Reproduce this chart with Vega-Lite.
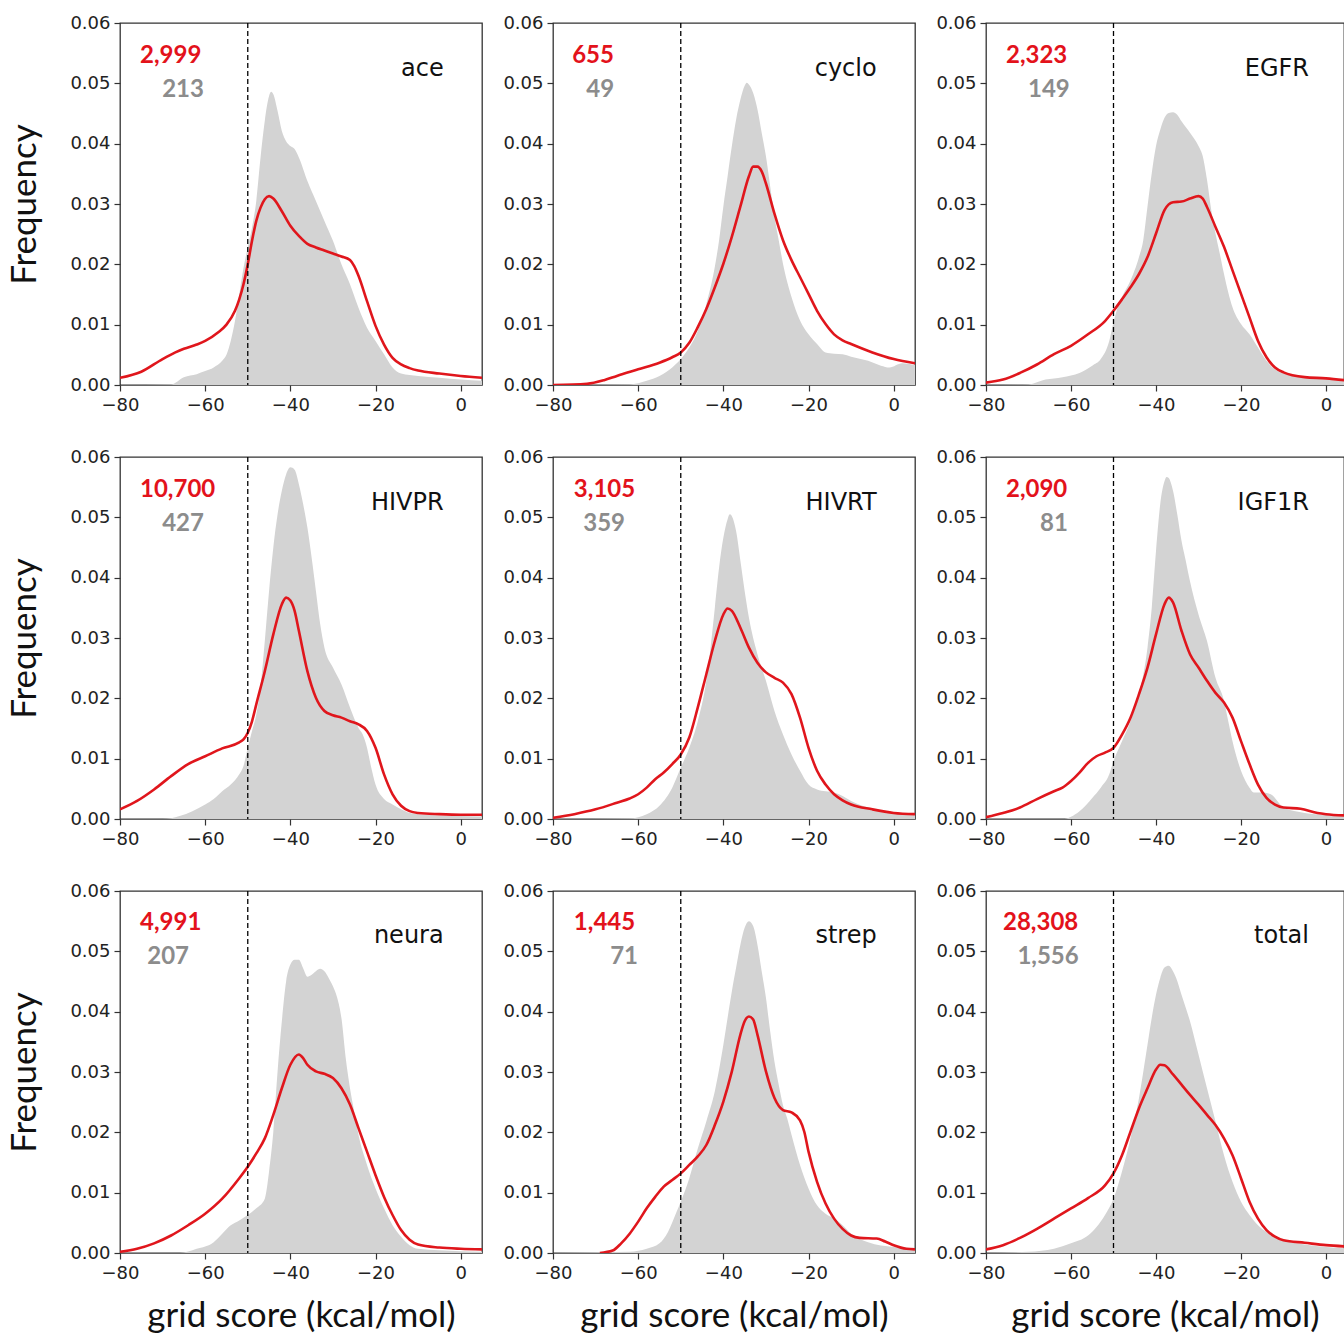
{
"$schema": "https://vega.github.io/schema/vega-lite/v6.json",
"background": "white",
"padding": {"left": 7, "top": 13, "right": 0, "bottom": 0},
"bounds": "flush",
"spacing": {"row": 72, "column": 71},
"columns": 3,
"datasets": {
"info": [
{"t":"ace","red":"2,999","gray":"213","cut":-50},
{"t":"cyclo","red":"655","gray":"49","cut":-50},
{"t":"EGFR","red":"2,323","gray":"149","cut":-50},
{"t":"HIVPR","red":"10,700","gray":"427","cut":-50},
{"t":"HIVRT","red":"3,105","gray":"359","cut":-50},
{"t":"IGF1R","red":"2,090","gray":"81","cut":-50},
{"t":"neura","red":"4,991","gray":"207","cut":-50},
{"t":"strep","red":"1,445","gray":"71","cut":-50},
{"t":"total","red":"28,308","gray":"1,556","cut":-50}
],
"ace_g": [{"x":-80,"y":0},{"x":-68,"y":0.0001},{"x":-65,"y":0.0013},{"x":-62,"y":0.0018},{"x":-60,"y":0.0023},{"x":-58,"y":0.0029},{"x":-56,"y":0.004},{"x":-55,"y":0.005},{"x":-54,"y":0.0073},{"x":-53,"y":0.0106},{"x":-52,"y":0.015},{"x":-51,"y":0.0194},{"x":-50,"y":0.0228},{"x":-49,"y":0.0261},{"x":-48,"y":0.0305},{"x":-47,"y":0.0377},{"x":-46,"y":0.0438},{"x":-45,"y":0.0479},{"x":-44.5,"y":0.0486},{"x":-44,"y":0.0482},{"x":-43,"y":0.0454},{"x":-42,"y":0.0421},{"x":-41,"y":0.0404},{"x":-40,"y":0.0396},{"x":-39,"y":0.0391},{"x":-38,"y":0.0377},{"x":-36,"y":0.0338},{"x":-34,"y":0.0305},{"x":-32,"y":0.0272},{"x":-30,"y":0.0239},{"x":-28,"y":0.02},{"x":-26,"y":0.0167},{"x":-24,"y":0.0128},{"x":-22,"y":0.0095},{"x":-20,"y":0.0073},{"x":-18,"y":0.0051},{"x":-16,"y":0.0029},{"x":-14,"y":0.0019},{"x":-10,"y":0.0015},{"x":-5,"y":0.0012},{"x":0,"y":0.0009},{"x":5,"y":0.0007}],
"ace_r": [{"x":-80,"y":0.0012},{"x":-75,"y":0.0022},{"x":-70,"y":0.0043},{"x":-67,"y":0.0054},{"x":-65,"y":0.006},{"x":-62,"y":0.0067},{"x":-60,"y":0.0073},{"x":-57,"y":0.0087},{"x":-55,"y":0.01},{"x":-53,"y":0.0123},{"x":-52,"y":0.0142},{"x":-51,"y":0.0167},{"x":-50,"y":0.02},{"x":-49,"y":0.0239},{"x":-48,"y":0.0272},{"x":-47,"y":0.0294},{"x":-46,"y":0.0308},{"x":-45,"y":0.0313},{"x":-44,"y":0.0309},{"x":-42,"y":0.0288},{"x":-40,"y":0.0264},{"x":-38,"y":0.0247},{"x":-36,"y":0.0234},{"x":-34,"y":0.0228},{"x":-32,"y":0.0223},{"x":-30,"y":0.0218},{"x":-28,"y":0.0213},{"x":-26,"y":0.0207},{"x":-25,"y":0.0197},{"x":-24,"y":0.0181},{"x":-22,"y":0.0139},{"x":-20,"y":0.0098},{"x":-18,"y":0.0067},{"x":-16,"y":0.0045},{"x":-14,"y":0.0034},{"x":-12,"y":0.0028},{"x":-10,"y":0.0024},{"x":-5,"y":0.0019},{"x":0,"y":0.0015},{"x":5,"y":0.0012}],
"cyclo_g": [{"x":-80,"y":0},{"x":-62,"y":0.0001},{"x":-58,"y":0.0007},{"x":-55,"y":0.0015},{"x":-52,"y":0.0029},{"x":-50,"y":0.0043},{"x":-48,"y":0.0062},{"x":-46,"y":0.009},{"x":-44,"y":0.0134},{"x":-42,"y":0.0196},{"x":-41,"y":0.024},{"x":-40,"y":0.0296},{"x":-39,"y":0.0346},{"x":-38,"y":0.0396},{"x":-37,"y":0.044},{"x":-36,"y":0.0473},{"x":-35,"y":0.0496},{"x":-34.5,"y":0.0501},{"x":-34,"y":0.0498},{"x":-33,"y":0.0484},{"x":-32,"y":0.0457},{"x":-31,"y":0.0418},{"x":-30,"y":0.0379},{"x":-29,"y":0.0329},{"x":-28,"y":0.0279},{"x":-27,"y":0.024},{"x":-26,"y":0.0201},{"x":-24,"y":0.0146},{"x":-22,"y":0.0107},{"x":-20,"y":0.0084},{"x":-18,"y":0.0068},{"x":-16,"y":0.0054},{"x":-14,"y":0.0052},{"x":-12,"y":0.0051},{"x":-10,"y":0.0047},{"x":-6,"y":0.004},{"x":-3,"y":0.0032},{"x":-1,"y":0.0029},{"x":2,"y":0.0036},{"x":5,"y":0.0033}],
"cyclo_r": [{"x":-80,"y":0},{"x":-72,"y":0.0002},{"x":-68,"y":0.0008},{"x":-65,"y":0.0015},{"x":-60,"y":0.0026},{"x":-55,"y":0.0037},{"x":-52,"y":0.0046},{"x":-50,"y":0.0054},{"x":-48,"y":0.007},{"x":-46,"y":0.0096},{"x":-44,"y":0.0126},{"x":-42,"y":0.0162},{"x":-40,"y":0.0201},{"x":-38,"y":0.0246},{"x":-36,"y":0.0296},{"x":-34,"y":0.0346},{"x":-33,"y":0.0362},{"x":-32,"y":0.0362},{"x":-31,"y":0.0354},{"x":-30,"y":0.0334},{"x":-28,"y":0.0284},{"x":-26,"y":0.024},{"x":-24,"y":0.0207},{"x":-22,"y":0.0179},{"x":-20,"y":0.0151},{"x":-18,"y":0.0123},{"x":-16,"y":0.0101},{"x":-14,"y":0.0084},{"x":-12,"y":0.0074},{"x":-10,"y":0.0068},{"x":-5,"y":0.0054},{"x":0,"y":0.0043},{"x":5,"y":0.0036}],
"EGFR_g": [{"x":-80,"y":0},{"x":-70,"y":0.0001},{"x":-66,"y":0.0009},{"x":-62,"y":0.0013},{"x":-58,"y":0.002},{"x":-55,"y":0.0032},{"x":-53,"y":0.0043},{"x":-51,"y":0.0073},{"x":-50,"y":0.0104},{"x":-49,"y":0.0129},{"x":-48,"y":0.0146},{"x":-46,"y":0.0173},{"x":-44,"y":0.0212},{"x":-43,"y":0.024},{"x":-42,"y":0.0296},{"x":-41,"y":0.0351},{"x":-40,"y":0.0396},{"x":-39,"y":0.0423},{"x":-38,"y":0.0443},{"x":-37,"y":0.0451},{"x":-36,"y":0.0452},{"x":-35,"y":0.0448},{"x":-34,"y":0.0437},{"x":-32,"y":0.0418},{"x":-30,"y":0.0396},{"x":-29,"y":0.0379},{"x":-28,"y":0.034},{"x":-27,"y":0.029},{"x":-26,"y":0.0251},{"x":-25,"y":0.0218},{"x":-24,"y":0.0184},{"x":-22,"y":0.0129},{"x":-20,"y":0.0101},{"x":-18,"y":0.0084},{"x":-16,"y":0.0062},{"x":-14,"y":0.004},{"x":-12,"y":0.0026},{"x":-10,"y":0.0019},{"x":-5,"y":0.0013},{"x":0,"y":0.0009},{"x":4.3,"y":0.0007}],
"EGFR_r": [{"x":-80,"y":0.0004},{"x":-76,"y":0.0009},{"x":-72,"y":0.002},{"x":-68,"y":0.0034},{"x":-64,"y":0.0051},{"x":-60,"y":0.0065},{"x":-56,"y":0.0084},{"x":-52,"y":0.0106},{"x":-50,"y":0.0123},{"x":-48,"y":0.0142},{"x":-46,"y":0.0162},{"x":-44,"y":0.0184},{"x":-42,"y":0.0212},{"x":-40,"y":0.0251},{"x":-38,"y":0.029},{"x":-36,"y":0.0303},{"x":-34,"y":0.0304},{"x":-32,"y":0.0309},{"x":-30,"y":0.0313},{"x":-29,"y":0.0309},{"x":-28,"y":0.0295},{"x":-26,"y":0.0262},{"x":-24,"y":0.0229},{"x":-22,"y":0.019},{"x":-20,"y":0.0151},{"x":-18,"y":0.0112},{"x":-16,"y":0.0073},{"x":-14,"y":0.0046},{"x":-12,"y":0.0029},{"x":-10,"y":0.0021},{"x":-5,"y":0.0013},{"x":0,"y":0.0011},{"x":4.3,"y":0.0008}],
"HIVPR_g": [{"x":-80,"y":0},{"x":-70,"y":0},{"x":-66,"y":0.0005},{"x":-63,"y":0.0013},{"x":-60,"y":0.0024},{"x":-58,"y":0.0033},{"x":-56,"y":0.0046},{"x":-54,"y":0.0057},{"x":-52,"y":0.0074},{"x":-51,"y":0.0088},{"x":-50,"y":0.0118},{"x":-49,"y":0.0146},{"x":-48,"y":0.0173},{"x":-47,"y":0.0218},{"x":-46,"y":0.0295},{"x":-45,"y":0.0378},{"x":-44,"y":0.045},{"x":-43,"y":0.0505},{"x":-42,"y":0.0544},{"x":-41,"y":0.0571},{"x":-40,"y":0.0583},{"x":-39,"y":0.0579},{"x":-38,"y":0.0555},{"x":-37,"y":0.0522},{"x":-36,"y":0.0483},{"x":-35,"y":0.0433},{"x":-34,"y":0.0378},{"x":-33,"y":0.0323},{"x":-32,"y":0.0284},{"x":-30,"y":0.0251},{"x":-28,"y":0.0223},{"x":-26,"y":0.0185},{"x":-24,"y":0.0151},{"x":-23,"y":0.014},{"x":-22,"y":0.0118},{"x":-21,"y":0.0085},{"x":-20,"y":0.0057},{"x":-18,"y":0.0033},{"x":-16,"y":0.0024},{"x":-14,"y":0.0016},{"x":-12,"y":0.001},{"x":-8,"y":0.0007},{"x":0,"y":0.0005},{"x":5,"y":0.0004}],
"HIVPR_r": [{"x":-80,"y":0.0016},{"x":-76,"y":0.003},{"x":-72,"y":0.0049},{"x":-68,"y":0.0071},{"x":-64,"y":0.0091},{"x":-60,"y":0.0104},{"x":-56,"y":0.0117},{"x":-52,"y":0.0127},{"x":-51,"y":0.0132},{"x":-50,"y":0.0143},{"x":-49,"y":0.0162},{"x":-48,"y":0.019},{"x":-46,"y":0.0245},{"x":-44,"y":0.0306},{"x":-42,"y":0.0356},{"x":-41,"y":0.0367},{"x":-40,"y":0.0362},{"x":-39,"y":0.0345},{"x":-38,"y":0.0312},{"x":-36,"y":0.0245},{"x":-34,"y":0.0201},{"x":-32,"y":0.0179},{"x":-30,"y":0.0172},{"x":-28,"y":0.0168},{"x":-26,"y":0.0162},{"x":-24,"y":0.0157},{"x":-22,"y":0.0146},{"x":-20,"y":0.0118},{"x":-18,"y":0.0074},{"x":-16,"y":0.0041},{"x":-14,"y":0.0022},{"x":-12,"y":0.0013},{"x":-10,"y":0.001},{"x":-5,"y":0.0008},{"x":0,"y":0.0007},{"x":5,"y":0.0007}],
"HIVRT_g": [{"x":-80,"y":0},{"x":-62,"y":0.0001},{"x":-58,"y":0.0008},{"x":-55,"y":0.0022},{"x":-52,"y":0.0052},{"x":-50,"y":0.0085},{"x":-48,"y":0.0118},{"x":-46,"y":0.0162},{"x":-44,"y":0.0229},{"x":-43,"y":0.0284},{"x":-42,"y":0.035},{"x":-41,"y":0.0417},{"x":-40,"y":0.0466},{"x":-39,"y":0.0497},{"x":-38.5,"y":0.0505},{"x":-38,"y":0.0502},{"x":-37,"y":0.0477},{"x":-36,"y":0.0428},{"x":-35,"y":0.0378},{"x":-34,"y":0.0334},{"x":-32,"y":0.0273},{"x":-30,"y":0.0229},{"x":-28,"y":0.0179},{"x":-26,"y":0.014},{"x":-24,"y":0.0107},{"x":-22,"y":0.008},{"x":-20,"y":0.0057},{"x":-18,"y":0.0049},{"x":-16,"y":0.0046},{"x":-14,"y":0.0044},{"x":-12,"y":0.0038},{"x":-10,"y":0.003},{"x":-6,"y":0.0019},{"x":0,"y":0.001},{"x":5,"y":0.0008}],
"HIVRT_r": [{"x":-80,"y":0.0002},{"x":-75,"y":0.0008},{"x":-70,"y":0.0016},{"x":-65,"y":0.0027},{"x":-62,"y":0.0034},{"x":-60,"y":0.0041},{"x":-58,"y":0.0052},{"x":-56,"y":0.0066},{"x":-54,"y":0.0077},{"x":-52,"y":0.0091},{"x":-50,"y":0.0107},{"x":-48,"y":0.0135},{"x":-46,"y":0.0185},{"x":-44,"y":0.024},{"x":-42,"y":0.0295},{"x":-40,"y":0.0339},{"x":-39,"y":0.0349},{"x":-38,"y":0.0345},{"x":-36,"y":0.0317},{"x":-34,"y":0.0284},{"x":-32,"y":0.0259},{"x":-30,"y":0.0243},{"x":-28,"y":0.0234},{"x":-26,"y":0.0226},{"x":-24,"y":0.0207},{"x":-22,"y":0.0168},{"x":-20,"y":0.0118},{"x":-18,"y":0.008},{"x":-16,"y":0.0057},{"x":-14,"y":0.0041},{"x":-12,"y":0.0031},{"x":-10,"y":0.0024},{"x":-5,"y":0.0016},{"x":0,"y":0.001},{"x":5,"y":0.0008}],
"IGF1R_g": [{"x":-80,"y":0},{"x":-62,"y":0},{"x":-58,"y":0.0013},{"x":-55,"y":0.0035},{"x":-53,"y":0.0052},{"x":-51,"y":0.0074},{"x":-50,"y":0.0096},{"x":-48,"y":0.0129},{"x":-46,"y":0.0162},{"x":-44,"y":0.0207},{"x":-42,"y":0.0284},{"x":-41,"y":0.035},{"x":-40,"y":0.0444},{"x":-39,"y":0.0522},{"x":-38,"y":0.056},{"x":-37.5,"y":0.0567},{"x":-37,"y":0.0565},{"x":-36,"y":0.0544},{"x":-35,"y":0.0505},{"x":-34,"y":0.0461},{"x":-33,"y":0.0428},{"x":-32,"y":0.0394},{"x":-30,"y":0.0339},{"x":-28,"y":0.0295},{"x":-26,"y":0.0234},{"x":-24,"y":0.0196},{"x":-23,"y":0.0162},{"x":-22,"y":0.0129},{"x":-20,"y":0.008},{"x":-18,"y":0.0052},{"x":-17,"y":0.0044},{"x":-15,"y":0.0044},{"x":-13,"y":0.0041},{"x":-10,"y":0.0019},{"x":-5,"y":0.001},{"x":0,"y":0.0007},{"x":4.3,"y":0.0005}],
"IGF1R_r": [{"x":-80,"y":0.0003},{"x":-76,"y":0.001},{"x":-72,"y":0.0019},{"x":-68,"y":0.0033},{"x":-64,"y":0.0046},{"x":-62,"y":0.0052},{"x":-60,"y":0.0063},{"x":-58,"y":0.0077},{"x":-56,"y":0.0093},{"x":-54,"y":0.0104},{"x":-52,"y":0.011},{"x":-50,"y":0.0118},{"x":-48,"y":0.014},{"x":-46,"y":0.0168},{"x":-44,"y":0.0207},{"x":-42,"y":0.0251},{"x":-40,"y":0.0306},{"x":-38,"y":0.0356},{"x":-37,"y":0.0367},{"x":-36,"y":0.0359},{"x":-34,"y":0.0312},{"x":-32,"y":0.0273},{"x":-30,"y":0.0251},{"x":-28,"y":0.0229},{"x":-26,"y":0.0209},{"x":-24,"y":0.0193},{"x":-22,"y":0.0168},{"x":-20,"y":0.0129},{"x":-18,"y":0.0091},{"x":-16,"y":0.0057},{"x":-14,"y":0.0035},{"x":-12,"y":0.0024},{"x":-10,"y":0.0019},{"x":-6,"y":0.0017},{"x":-2,"y":0.001},{"x":0,"y":0.0008},{"x":4.3,"y":0.0006}],
"neura_g": [{"x":-80,"y":0},{"x":-66,"y":0},{"x":-62,"y":0.0007},{"x":-58,"y":0.0018},{"x":-56,"y":0.0032},{"x":-54,"y":0.0046},{"x":-52,"y":0.0054},{"x":-50,"y":0.0063},{"x":-48,"y":0.0074},{"x":-46,"y":0.009},{"x":-45,"y":0.0135},{"x":-44,"y":0.0201},{"x":-43,"y":0.0301},{"x":-42,"y":0.0384},{"x":-41,"y":0.045},{"x":-40,"y":0.0478},{"x":-39,"y":0.0486},{"x":-38,"y":0.0486},{"x":-37,"y":0.0472},{"x":-36,"y":0.0458},{"x":-35,"y":0.0461},{"x":-34,"y":0.0467},{"x":-33,"y":0.0471},{"x":-32,"y":0.0467},{"x":-31,"y":0.0456},{"x":-30,"y":0.0442},{"x":-29,"y":0.0423},{"x":-28,"y":0.0389},{"x":-27,"y":0.0323},{"x":-26,"y":0.0273},{"x":-25,"y":0.0234},{"x":-24,"y":0.0196},{"x":-22,"y":0.0146},{"x":-20,"y":0.0107},{"x":-18,"y":0.0074},{"x":-16,"y":0.0046},{"x":-14,"y":0.0027},{"x":-12,"y":0.0013},{"x":-10,"y":0.0007},{"x":0,"y":0.0003},{"x":5,"y":0.0002}],
"neura_r": [{"x":-80,"y":0.0002},{"x":-76,"y":0.0007},{"x":-72,"y":0.0016},{"x":-68,"y":0.0029},{"x":-64,"y":0.0046},{"x":-60,"y":0.0065},{"x":-56,"y":0.009},{"x":-52,"y":0.0124},{"x":-50,"y":0.0143},{"x":-48,"y":0.0165},{"x":-46,"y":0.019},{"x":-44,"y":0.0229},{"x":-42,"y":0.0273},{"x":-40,"y":0.0312},{"x":-38,"y":0.0329},{"x":-37,"y":0.0323},{"x":-36,"y":0.0312},{"x":-34,"y":0.0301},{"x":-32,"y":0.0297},{"x":-30,"y":0.029},{"x":-28,"y":0.0273},{"x":-26,"y":0.0246},{"x":-24,"y":0.0207},{"x":-22,"y":0.0168},{"x":-20,"y":0.0129},{"x":-18,"y":0.0093},{"x":-16,"y":0.0063},{"x":-14,"y":0.0038},{"x":-12,"y":0.0022},{"x":-10,"y":0.0014},{"x":-5,"y":0.0009},{"x":0,"y":0.0007},{"x":5,"y":0.0006}],
"strep_g": [{"x":-80,"y":0},{"x":-62,"y":0.0002},{"x":-58,"y":0.0007},{"x":-55,"y":0.0016},{"x":-53,"y":0.0035},{"x":-51,"y":0.0068},{"x":-50,"y":0.0085},{"x":-48,"y":0.0124},{"x":-46,"y":0.0173},{"x":-44,"y":0.0218},{"x":-42,"y":0.0268},{"x":-40,"y":0.0345},{"x":-39,"y":0.039},{"x":-38,"y":0.0434},{"x":-37,"y":0.0473},{"x":-36,"y":0.0511},{"x":-35,"y":0.0539},{"x":-34,"y":0.055},{"x":-33,"y":0.0542},{"x":-32,"y":0.0511},{"x":-31,"y":0.0467},{"x":-30,"y":0.0423},{"x":-29,"y":0.0367},{"x":-28,"y":0.0317},{"x":-27,"y":0.0279},{"x":-26,"y":0.0245},{"x":-25,"y":0.0223},{"x":-24,"y":0.0196},{"x":-22,"y":0.0146},{"x":-20,"y":0.0107},{"x":-18,"y":0.0079},{"x":-16,"y":0.0065},{"x":-14,"y":0.0057},{"x":-12,"y":0.0046},{"x":-10,"y":0.0032},{"x":-6,"y":0.0018},{"x":0,"y":0.001},{"x":5,"y":0.0007}],
"strep_r": [{"x":-69,"y":0},{"x":-66,"y":0.0004},{"x":-64,"y":0.0016},{"x":-62,"y":0.0032},{"x":-60,"y":0.0052},{"x":-58,"y":0.0074},{"x":-56,"y":0.0093},{"x":-54,"y":0.011},{"x":-52,"y":0.0121},{"x":-50,"y":0.0132},{"x":-48,"y":0.0146},{"x":-46,"y":0.016},{"x":-44,"y":0.0179},{"x":-42,"y":0.0212},{"x":-40,"y":0.0251},{"x":-38,"y":0.0301},{"x":-36,"y":0.0362},{"x":-35,"y":0.0384},{"x":-34,"y":0.0392},{"x":-33,"y":0.0387},{"x":-32,"y":0.0362},{"x":-30,"y":0.0301},{"x":-28,"y":0.0257},{"x":-26,"y":0.0237},{"x":-24,"y":0.0233},{"x":-22,"y":0.022},{"x":-21,"y":0.0201},{"x":-20,"y":0.0168},{"x":-18,"y":0.0118},{"x":-16,"y":0.0082},{"x":-14,"y":0.0057},{"x":-12,"y":0.004},{"x":-10,"y":0.0029},{"x":-8,"y":0.0025},{"x":-4,"y":0.0024},{"x":-2,"y":0.0019},{"x":0,"y":0.0013},{"x":3,"y":0.0007},{"x":5,"y":0.0006}],
"total_g": [{"x":-80,"y":0},{"x":-70,"y":0.0002},{"x":-64,"y":0.0007},{"x":-60,"y":0.0016},{"x":-56,"y":0.0029},{"x":-54,"y":0.0043},{"x":-52,"y":0.0063},{"x":-50,"y":0.009},{"x":-48,"y":0.0135},{"x":-46,"y":0.019},{"x":-44,"y":0.0257},{"x":-42,"y":0.0345},{"x":-41,"y":0.039},{"x":-40,"y":0.0428},{"x":-39,"y":0.0456},{"x":-38,"y":0.0473},{"x":-37,"y":0.0476},{"x":-36,"y":0.0467},{"x":-35,"y":0.0451},{"x":-34,"y":0.0428},{"x":-32,"y":0.0384},{"x":-30,"y":0.0329},{"x":-28,"y":0.0273},{"x":-26,"y":0.0218},{"x":-24,"y":0.0162},{"x":-22,"y":0.0118},{"x":-20,"y":0.0085},{"x":-18,"y":0.0063},{"x":-16,"y":0.0046},{"x":-14,"y":0.0035},{"x":-12,"y":0.0027},{"x":-10,"y":0.0021},{"x":-5,"y":0.0014},{"x":0,"y":0.001},{"x":4.3,"y":0.0008}],
"total_r": [{"x":-80,"y":0.0006},{"x":-76,"y":0.0013},{"x":-72,"y":0.0025},{"x":-68,"y":0.004},{"x":-64,"y":0.0057},{"x":-60,"y":0.0074},{"x":-56,"y":0.0091},{"x":-52,"y":0.0112},{"x":-50,"y":0.0132},{"x":-48,"y":0.0162},{"x":-46,"y":0.0201},{"x":-44,"y":0.024},{"x":-42,"y":0.0273},{"x":-40,"y":0.0304},{"x":-39,"y":0.0312},{"x":-38,"y":0.0311},{"x":-36,"y":0.0296},{"x":-34,"y":0.0279},{"x":-32,"y":0.0262},{"x":-30,"y":0.0246},{"x":-28,"y":0.0229},{"x":-26,"y":0.0212},{"x":-24,"y":0.019},{"x":-22,"y":0.0162},{"x":-20,"y":0.0124},{"x":-18,"y":0.0085},{"x":-16,"y":0.0057},{"x":-14,"y":0.0038},{"x":-12,"y":0.0027},{"x":-10,"y":0.0021},{"x":-5,"y":0.0017},{"x":0,"y":0.0013},{"x":4.3,"y":0.0011}]
},
"concat": [
{"width":362,"height":362,"layer":[
{"data":{"name":"ace_g"},"mark":{"type":"area","color":"#d3d3d3","interpolate":"monotone","clip":true},"encoding":{"x":{"field":"x","type":"quantitative","scale":{"domain":[-80,5],"nice":false,"zero":false},"axis":{"values":[-80,-60,-40,-20,0],"title":null}},"y":{"field":"y","type":"quantitative","scale":{"domain":[0,0.06],"nice":false},"axis":{"values":[0,0.01,0.02,0.03,0.04,0.05,0.06],"format":".2f","title":"Frequency"}}}},
{"data":{"name":"ace_r"},"mark":{"type":"line","color":"#e0161c","strokeWidth":2.6,"interpolate":"monotone","clip":true},"encoding":{"x":{"field":"x","type":"quantitative"},"y":{"field":"y","type":"quantitative"}}},
{"data":{"name":"info"},"transform":[{"filter":"datum.t==='ace'"}],"mark":{"type":"rule","color":"black","strokeDash":[5,3],"strokeWidth":1.3},"encoding":{"x":{"field":"cut","type":"quantitative"}}},
{"data":{"name":"info"},"transform":[{"filter":"datum.t==='ace'"}],"mark":{"type":"text","align":"left","baseline":"middle","font":"Lato","fontWeight":"bold","fontSize":24,"color":"#e3121b"},"encoding":{"x":{"datum":-75.3,"type":"quantitative"},"y":{"datum":0.0545,"type":"quantitative"},"text":{"field":"red"}}},
{"data":{"name":"info"},"transform":[{"filter":"datum.t==='ace'"}],"mark":{"type":"text","align":"center","baseline":"middle","font":"Lato","fontWeight":"bold","fontSize":24,"color":"#8c8c8c"},"encoding":{"x":{"datum":-65.2,"type":"quantitative"},"y":{"datum":0.0489,"type":"quantitative"},"text":{"field":"gray"}}},
{"data":{"name":"info"},"transform":[{"filter":"datum.t==='ace'"}],"mark":{"type":"text","align":"right","baseline":"middle","font":"DejaVu Sans","fontSize":24,"color":"#111111"},"encoding":{"x":{"datum":-4,"type":"quantitative"},"y":{"datum":0.0524,"type":"quantitative"},"text":{"field":"t"}}}
]},
{"width":362,"height":362,"layer":[
{"data":{"name":"cyclo_g"},"mark":{"type":"area","color":"#d3d3d3","interpolate":"monotone","clip":true},"encoding":{"x":{"field":"x","type":"quantitative","scale":{"domain":[-80,5],"nice":false,"zero":false},"axis":{"values":[-80,-60,-40,-20,0],"title":null}},"y":{"field":"y","type":"quantitative","scale":{"domain":[0,0.06],"nice":false},"axis":{"values":[0,0.01,0.02,0.03,0.04,0.05,0.06],"format":".2f","title":null}}}},
{"data":{"name":"cyclo_r"},"mark":{"type":"line","color":"#e0161c","strokeWidth":2.6,"interpolate":"monotone","clip":true},"encoding":{"x":{"field":"x","type":"quantitative"},"y":{"field":"y","type":"quantitative"}}},
{"data":{"name":"info"},"transform":[{"filter":"datum.t==='cyclo'"}],"mark":{"type":"rule","color":"black","strokeDash":[5,3],"strokeWidth":1.3},"encoding":{"x":{"field":"cut","type":"quantitative"}}},
{"data":{"name":"info"},"transform":[{"filter":"datum.t==='cyclo'"}],"mark":{"type":"text","align":"left","baseline":"middle","font":"Lato","fontWeight":"bold","fontSize":24,"color":"#e3121b"},"encoding":{"x":{"datum":-75.5,"type":"quantitative"},"y":{"datum":0.0545,"type":"quantitative"},"text":{"field":"red"}}},
{"data":{"name":"info"},"transform":[{"filter":"datum.t==='cyclo'"}],"mark":{"type":"text","align":"center","baseline":"middle","font":"Lato","fontWeight":"bold","fontSize":24,"color":"#8c8c8c"},"encoding":{"x":{"datum":-68.9,"type":"quantitative"},"y":{"datum":0.0489,"type":"quantitative"},"text":{"field":"gray"}}},
{"data":{"name":"info"},"transform":[{"filter":"datum.t==='cyclo'"}],"mark":{"type":"text","align":"right","baseline":"middle","font":"DejaVu Sans","fontSize":24,"color":"#111111"},"encoding":{"x":{"datum":-4,"type":"quantitative"},"y":{"datum":0.0524,"type":"quantitative"},"text":{"field":"t"}}}
]},
{"width":358,"height":362,"layer":[
{"data":{"name":"EGFR_g"},"mark":{"type":"area","color":"#d3d3d3","interpolate":"monotone","clip":true},"encoding":{"x":{"field":"x","type":"quantitative","scale":{"domain":[-80,4.235],"nice":false,"zero":false},"axis":{"values":[-80,-60,-40,-20,0],"title":null}},"y":{"field":"y","type":"quantitative","scale":{"domain":[0,0.06],"nice":false},"axis":{"values":[0,0.01,0.02,0.03,0.04,0.05,0.06],"format":".2f","title":null}}}},
{"data":{"name":"EGFR_r"},"mark":{"type":"line","color":"#e0161c","strokeWidth":2.6,"interpolate":"monotone","clip":true},"encoding":{"x":{"field":"x","type":"quantitative"},"y":{"field":"y","type":"quantitative"}}},
{"data":{"name":"info"},"transform":[{"filter":"datum.t==='EGFR'"}],"mark":{"type":"rule","color":"black","strokeDash":[5,3],"strokeWidth":1.3},"encoding":{"x":{"field":"cut","type":"quantitative"}}},
{"data":{"name":"info"},"transform":[{"filter":"datum.t==='EGFR'"}],"mark":{"type":"text","align":"left","baseline":"middle","font":"Lato","fontWeight":"bold","fontSize":24,"color":"#e3121b"},"encoding":{"x":{"datum":-75.3,"type":"quantitative"},"y":{"datum":0.0545,"type":"quantitative"},"text":{"field":"red"}}},
{"data":{"name":"info"},"transform":[{"filter":"datum.t==='EGFR'"}],"mark":{"type":"text","align":"center","baseline":"middle","font":"Lato","fontWeight":"bold","fontSize":24,"color":"#8c8c8c"},"encoding":{"x":{"datum":-65.2,"type":"quantitative"},"y":{"datum":0.0489,"type":"quantitative"},"text":{"field":"gray"}}},
{"data":{"name":"info"},"transform":[{"filter":"datum.t==='EGFR'"}],"mark":{"type":"text","align":"right","baseline":"middle","font":"DejaVu Sans","fontSize":24,"color":"#111111"},"encoding":{"x":{"datum":-4,"type":"quantitative"},"y":{"datum":0.0524,"type":"quantitative"},"text":{"field":"t"}}}
]},
{"width":362,"height":362,"layer":[
{"data":{"name":"HIVPR_g"},"mark":{"type":"area","color":"#d3d3d3","interpolate":"monotone","clip":true},"encoding":{"x":{"field":"x","type":"quantitative","scale":{"domain":[-80,5],"nice":false,"zero":false},"axis":{"values":[-80,-60,-40,-20,0],"title":null}},"y":{"field":"y","type":"quantitative","scale":{"domain":[0,0.06],"nice":false},"axis":{"values":[0,0.01,0.02,0.03,0.04,0.05,0.06],"format":".2f","title":"Frequency"}}}},
{"data":{"name":"HIVPR_r"},"mark":{"type":"line","color":"#e0161c","strokeWidth":2.6,"interpolate":"monotone","clip":true},"encoding":{"x":{"field":"x","type":"quantitative"},"y":{"field":"y","type":"quantitative"}}},
{"data":{"name":"info"},"transform":[{"filter":"datum.t==='HIVPR'"}],"mark":{"type":"rule","color":"black","strokeDash":[5,3],"strokeWidth":1.3},"encoding":{"x":{"field":"cut","type":"quantitative"}}},
{"data":{"name":"info"},"transform":[{"filter":"datum.t==='HIVPR'"}],"mark":{"type":"text","align":"left","baseline":"middle","font":"Lato","fontWeight":"bold","fontSize":24,"color":"#e3121b"},"encoding":{"x":{"datum":-75.3,"type":"quantitative"},"y":{"datum":0.0545,"type":"quantitative"},"text":{"field":"red"}}},
{"data":{"name":"info"},"transform":[{"filter":"datum.t==='HIVPR'"}],"mark":{"type":"text","align":"center","baseline":"middle","font":"Lato","fontWeight":"bold","fontSize":24,"color":"#8c8c8c"},"encoding":{"x":{"datum":-65.2,"type":"quantitative"},"y":{"datum":0.0489,"type":"quantitative"},"text":{"field":"gray"}}},
{"data":{"name":"info"},"transform":[{"filter":"datum.t==='HIVPR'"}],"mark":{"type":"text","align":"right","baseline":"middle","font":"DejaVu Sans","fontSize":24,"color":"#111111"},"encoding":{"x":{"datum":-4,"type":"quantitative"},"y":{"datum":0.0524,"type":"quantitative"},"text":{"field":"t"}}}
]},
{"width":362,"height":362,"layer":[
{"data":{"name":"HIVRT_g"},"mark":{"type":"area","color":"#d3d3d3","interpolate":"monotone","clip":true},"encoding":{"x":{"field":"x","type":"quantitative","scale":{"domain":[-80,5],"nice":false,"zero":false},"axis":{"values":[-80,-60,-40,-20,0],"title":null}},"y":{"field":"y","type":"quantitative","scale":{"domain":[0,0.06],"nice":false},"axis":{"values":[0,0.01,0.02,0.03,0.04,0.05,0.06],"format":".2f","title":null}}}},
{"data":{"name":"HIVRT_r"},"mark":{"type":"line","color":"#e0161c","strokeWidth":2.6,"interpolate":"monotone","clip":true},"encoding":{"x":{"field":"x","type":"quantitative"},"y":{"field":"y","type":"quantitative"}}},
{"data":{"name":"info"},"transform":[{"filter":"datum.t==='HIVRT'"}],"mark":{"type":"rule","color":"black","strokeDash":[5,3],"strokeWidth":1.3},"encoding":{"x":{"field":"cut","type":"quantitative"}}},
{"data":{"name":"info"},"transform":[{"filter":"datum.t==='HIVRT'"}],"mark":{"type":"text","align":"left","baseline":"middle","font":"Lato","fontWeight":"bold","fontSize":24,"color":"#e3121b"},"encoding":{"x":{"datum":-75.1,"type":"quantitative"},"y":{"datum":0.0545,"type":"quantitative"},"text":{"field":"red"}}},
{"data":{"name":"info"},"transform":[{"filter":"datum.t==='HIVRT'"}],"mark":{"type":"text","align":"center","baseline":"middle","font":"Lato","fontWeight":"bold","fontSize":24,"color":"#8c8c8c"},"encoding":{"x":{"datum":-68.0,"type":"quantitative"},"y":{"datum":0.0489,"type":"quantitative"},"text":{"field":"gray"}}},
{"data":{"name":"info"},"transform":[{"filter":"datum.t==='HIVRT'"}],"mark":{"type":"text","align":"right","baseline":"middle","font":"DejaVu Sans","fontSize":24,"color":"#111111"},"encoding":{"x":{"datum":-4,"type":"quantitative"},"y":{"datum":0.0524,"type":"quantitative"},"text":{"field":"t"}}}
]},
{"width":358,"height":362,"layer":[
{"data":{"name":"IGF1R_g"},"mark":{"type":"area","color":"#d3d3d3","interpolate":"monotone","clip":true},"encoding":{"x":{"field":"x","type":"quantitative","scale":{"domain":[-80,4.235],"nice":false,"zero":false},"axis":{"values":[-80,-60,-40,-20,0],"title":null}},"y":{"field":"y","type":"quantitative","scale":{"domain":[0,0.06],"nice":false},"axis":{"values":[0,0.01,0.02,0.03,0.04,0.05,0.06],"format":".2f","title":null}}}},
{"data":{"name":"IGF1R_r"},"mark":{"type":"line","color":"#e0161c","strokeWidth":2.6,"interpolate":"monotone","clip":true},"encoding":{"x":{"field":"x","type":"quantitative"},"y":{"field":"y","type":"quantitative"}}},
{"data":{"name":"info"},"transform":[{"filter":"datum.t==='IGF1R'"}],"mark":{"type":"rule","color":"black","strokeDash":[5,3],"strokeWidth":1.3},"encoding":{"x":{"field":"cut","type":"quantitative"}}},
{"data":{"name":"info"},"transform":[{"filter":"datum.t==='IGF1R'"}],"mark":{"type":"text","align":"left","baseline":"middle","font":"Lato","fontWeight":"bold","fontSize":24,"color":"#e3121b"},"encoding":{"x":{"datum":-75.3,"type":"quantitative"},"y":{"datum":0.0545,"type":"quantitative"},"text":{"field":"red"}}},
{"data":{"name":"info"},"transform":[{"filter":"datum.t==='IGF1R'"}],"mark":{"type":"text","align":"center","baseline":"middle","font":"Lato","fontWeight":"bold","fontSize":24,"color":"#8c8c8c"},"encoding":{"x":{"datum":-64.0,"type":"quantitative"},"y":{"datum":0.0489,"type":"quantitative"},"text":{"field":"gray"}}},
{"data":{"name":"info"},"transform":[{"filter":"datum.t==='IGF1R'"}],"mark":{"type":"text","align":"right","baseline":"middle","font":"DejaVu Sans","fontSize":24,"color":"#111111"},"encoding":{"x":{"datum":-4,"type":"quantitative"},"y":{"datum":0.0524,"type":"quantitative"},"text":{"field":"t"}}}
]},
{"width":362,"height":362,"layer":[
{"data":{"name":"neura_g"},"mark":{"type":"area","color":"#d3d3d3","interpolate":"monotone","clip":true},"encoding":{"x":{"field":"x","type":"quantitative","scale":{"domain":[-80,5],"nice":false,"zero":false},"axis":{"values":[-80,-60,-40,-20,0],"title":"grid score (kcal/mol)"}},"y":{"field":"y","type":"quantitative","scale":{"domain":[0,0.06],"nice":false},"axis":{"values":[0,0.01,0.02,0.03,0.04,0.05,0.06],"format":".2f","title":"Frequency"}}}},
{"data":{"name":"neura_r"},"mark":{"type":"line","color":"#e0161c","strokeWidth":2.6,"interpolate":"monotone","clip":true},"encoding":{"x":{"field":"x","type":"quantitative"},"y":{"field":"y","type":"quantitative"}}},
{"data":{"name":"info"},"transform":[{"filter":"datum.t==='neura'"}],"mark":{"type":"rule","color":"black","strokeDash":[5,3],"strokeWidth":1.3},"encoding":{"x":{"field":"cut","type":"quantitative"}}},
{"data":{"name":"info"},"transform":[{"filter":"datum.t==='neura'"}],"mark":{"type":"text","align":"left","baseline":"middle","font":"Lato","fontWeight":"bold","fontSize":24,"color":"#e3121b"},"encoding":{"x":{"datum":-75.3,"type":"quantitative"},"y":{"datum":0.0547,"type":"quantitative"},"text":{"field":"red"}}},
{"data":{"name":"info"},"transform":[{"filter":"datum.t==='neura'"}],"mark":{"type":"text","align":"center","baseline":"middle","font":"Lato","fontWeight":"bold","fontSize":24,"color":"#8c8c8c"},"encoding":{"x":{"datum":-68.7,"type":"quantitative"},"y":{"datum":0.0491,"type":"quantitative"},"text":{"field":"gray"}}},
{"data":{"name":"info"},"transform":[{"filter":"datum.t==='neura'"}],"mark":{"type":"text","align":"right","baseline":"middle","font":"DejaVu Sans","fontSize":24,"color":"#111111"},"encoding":{"x":{"datum":-4,"type":"quantitative"},"y":{"datum":0.0526,"type":"quantitative"},"text":{"field":"t"}}}
]},
{"width":362,"height":362,"layer":[
{"data":{"name":"strep_g"},"mark":{"type":"area","color":"#d3d3d3","interpolate":"monotone","clip":true},"encoding":{"x":{"field":"x","type":"quantitative","scale":{"domain":[-80,5],"nice":false,"zero":false},"axis":{"values":[-80,-60,-40,-20,0],"title":"grid score (kcal/mol)"}},"y":{"field":"y","type":"quantitative","scale":{"domain":[0,0.06],"nice":false},"axis":{"values":[0,0.01,0.02,0.03,0.04,0.05,0.06],"format":".2f","title":null}}}},
{"data":{"name":"strep_r"},"mark":{"type":"line","color":"#e0161c","strokeWidth":2.6,"interpolate":"monotone","clip":true},"encoding":{"x":{"field":"x","type":"quantitative"},"y":{"field":"y","type":"quantitative"}}},
{"data":{"name":"info"},"transform":[{"filter":"datum.t==='strep'"}],"mark":{"type":"rule","color":"black","strokeDash":[5,3],"strokeWidth":1.3},"encoding":{"x":{"field":"cut","type":"quantitative"}}},
{"data":{"name":"info"},"transform":[{"filter":"datum.t==='strep'"}],"mark":{"type":"text","align":"left","baseline":"middle","font":"Lato","fontWeight":"bold","fontSize":24,"color":"#e3121b"},"encoding":{"x":{"datum":-75.1,"type":"quantitative"},"y":{"datum":0.0547,"type":"quantitative"},"text":{"field":"red"}}},
{"data":{"name":"info"},"transform":[{"filter":"datum.t==='strep'"}],"mark":{"type":"text","align":"center","baseline":"middle","font":"Lato","fontWeight":"bold","fontSize":24,"color":"#8c8c8c"},"encoding":{"x":{"datum":-63.3,"type":"quantitative"},"y":{"datum":0.0491,"type":"quantitative"},"text":{"field":"gray"}}},
{"data":{"name":"info"},"transform":[{"filter":"datum.t==='strep'"}],"mark":{"type":"text","align":"right","baseline":"middle","font":"DejaVu Sans","fontSize":24,"color":"#111111"},"encoding":{"x":{"datum":-4,"type":"quantitative"},"y":{"datum":0.0526,"type":"quantitative"},"text":{"field":"t"}}}
]},
{"width":358,"height":362,"layer":[
{"data":{"name":"total_g"},"mark":{"type":"area","color":"#d3d3d3","interpolate":"monotone","clip":true},"encoding":{"x":{"field":"x","type":"quantitative","scale":{"domain":[-80,4.235],"nice":false,"zero":false},"axis":{"values":[-80,-60,-40,-20,0],"title":"grid score (kcal/mol)"}},"y":{"field":"y","type":"quantitative","scale":{"domain":[0,0.06],"nice":false},"axis":{"values":[0,0.01,0.02,0.03,0.04,0.05,0.06],"format":".2f","title":null}}}},
{"data":{"name":"total_r"},"mark":{"type":"line","color":"#e0161c","strokeWidth":2.6,"interpolate":"monotone","clip":true},"encoding":{"x":{"field":"x","type":"quantitative"},"y":{"field":"y","type":"quantitative"}}},
{"data":{"name":"info"},"transform":[{"filter":"datum.t==='total'"}],"mark":{"type":"rule","color":"black","strokeDash":[5,3],"strokeWidth":1.3},"encoding":{"x":{"field":"cut","type":"quantitative"}}},
{"data":{"name":"info"},"transform":[{"filter":"datum.t==='total'"}],"mark":{"type":"text","align":"left","baseline":"middle","font":"Lato","fontWeight":"bold","fontSize":24,"color":"#e3121b"},"encoding":{"x":{"datum":-76.0,"type":"quantitative"},"y":{"datum":0.0547,"type":"quantitative"},"text":{"field":"red"}}},
{"data":{"name":"info"},"transform":[{"filter":"datum.t==='total'"}],"mark":{"type":"text","align":"center","baseline":"middle","font":"Lato","fontWeight":"bold","fontSize":24,"color":"#8c8c8c"},"encoding":{"x":{"datum":-65.4,"type":"quantitative"},"y":{"datum":0.0491,"type":"quantitative"},"text":{"field":"gray"}}},
{"data":{"name":"info"},"transform":[{"filter":"datum.t==='total'"}],"mark":{"type":"text","align":"right","baseline":"middle","font":"DejaVu Sans","fontSize":24,"color":"#111111"},"encoding":{"x":{"datum":-4,"type":"quantitative"},"y":{"datum":0.0526,"type":"quantitative"},"text":{"field":"t"}}}
]}
],
"config": {
"view": {"stroke": "#333333", "strokeWidth": 1.3},
"axis": {"domain": false, "grid": false, "labelFont": "DejaVu Sans", "labelFontSize": 18, "labelColor": "#222222", "tickColor": "#333333", "tickSize": 6, "tickWidth": 1.2, "labelPadding": 4, "labelFlush": false, "labelOverlap": false, "titleFont": "Lato", "titleFontSize": 35, "titleFontWeight": "normal", "titleColor": "#111111"},
"axisY": {"titlePadding": 27},
"axisX": {"titlePadding": 16, "labelPadding": 5}
}
}
